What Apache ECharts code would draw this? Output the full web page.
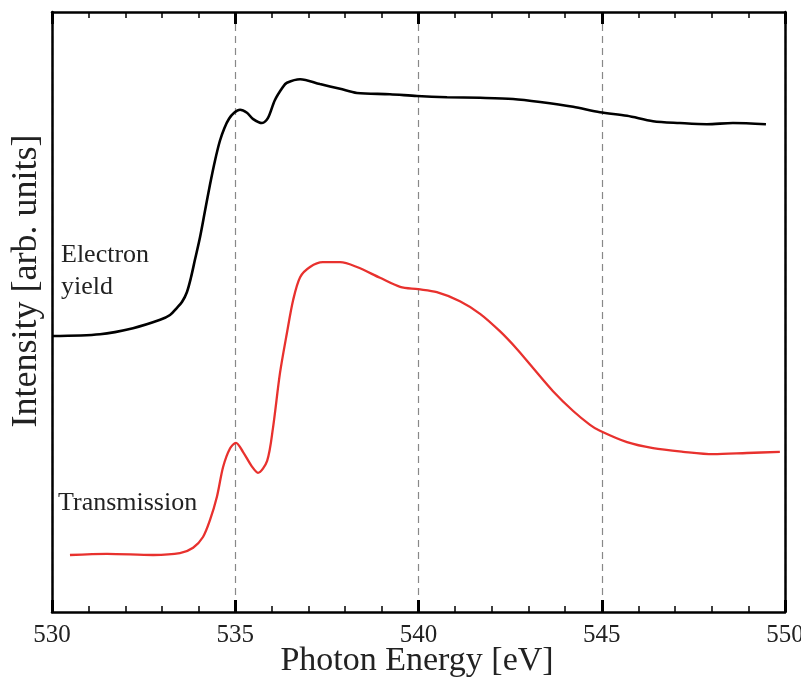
<!DOCTYPE html>
<html>
<head>
<meta charset="utf-8">
<script src="https://cdn.jsdelivr.net/npm/echarts@6/dist/echarts.min.js"></script>
<style>html,body{margin:0;padding:0;background:#fff}#c{width:801px;height:684px}</style>
</head>
<body>
<div id="c"></div>
<script>
// Photon energy (eV) and intensity (arb. units)
var electronEnergy = [530.00,531.31,532.21,532.95,533.22,533.41,533.55,533.68,533.79,533.90,534.04,534.17,534.31,534.45,534.58,534.70,534.83,534.97,535.13,535.32,535.48,535.73,535.89,536.08,536.30,536.41,536.77,537.31,537.86,538.32,539.22,539.96,540.78,541.68,542.58,543.32,544.22,544.95,545.69,546.40,547.13,547.87,548.58,549.48];
var electronYield = [46.0,46.3,47.3,48.7,49.5,50.7,51.7,53.3,55.7,58.7,62.5,66.7,71.2,75.3,78.5,80.6,82.2,83.2,83.7,83.2,82.2,81.5,82.3,85.3,87.5,88.2,88.8,88.0,87.2,86.5,86.3,86.0,85.8,85.7,85.5,85.0,84.2,83.3,82.7,81.8,81.5,81.3,81.5,81.3];

var transEnergy = [530.49,531.50,532.76,533.49,533.85,534.12,534.31,534.50,534.67,534.86,535.02,535.21,535.46,535.62,535.87,536.03,536.22,536.41,536.58,536.77,537.04,537.39,537.86,538.32,538.95,539.50,539.99,540.50,541.13,541.68,542.22,542.69,543.12,543.67,544.22,544.68,544.95,545.69,546.40,547.22,548.04,548.96,549.86];
var transmission = [9.5,9.7,9.5,9.8,10.7,12.5,15.3,19.2,24.2,27.3,28.2,26.7,24.2,23.2,25.2,30.7,39.8,46.5,52.0,55.8,57.5,58.3,58.3,57.5,55.7,54.2,53.8,53.3,51.8,49.7,46.8,43.8,40.7,36.8,33.5,31.2,30.2,28.3,27.3,26.7,26.3,26.5,26.7];

var xTicks = [530, 535, 540, 545, 550];

function pairs(xs, ys){ return xs.map(function(x,i){ return [x, ys[i]]; }); }

var chart = echarts.init(document.getElementById('c'), null, {renderer:'canvas'});
var serif = '"Liberation Serif","Times New Roman",serif';
var axisCommon = {
  type:'value', min:xTicks[0], max:xTicks[xTicks.length-1], interval:5,
  axisLine:{show:true, onZero:false, lineStyle:{color:'#000', width:2.5}},
  axisTick:{show:true, inside:true, length:12, lineStyle:{color:'#000', width:3}},
  minorTick:{show:true, splitNumber:5, length:6, lineStyle:{color:'#000', width:1.5}},
  splitLine:{show:false}
};
chart.setOption({
  animation:false,
  backgroundColor:'#fff',
  grid:{left:52, right:16, top:12, bottom:72, containLabel:false, outerBoundsMode:'none'},
  xAxis:[
    Object.assign({}, axisCommon, {
      position:'bottom',
      axisLabel:{show:true, margin:11, fontFamily:serif, fontSize:25, color:'#222'},
      splitLine:{show:true, lineStyle:{color:'#888', width:1.2, type:[7,5]}}
    }),
    Object.assign({}, axisCommon, {position:'top', axisLabel:{show:false}})
  ],
  yAxis:[
    {type:'value', min:0, max:100, position:'left',
     axisLine:{show:true, lineStyle:{color:'#000', width:2.5}},
     axisTick:{show:false}, axisLabel:{show:false}, splitLine:{show:false}},
    {type:'value', min:0, max:100, position:'right',
     axisLine:{show:true, lineStyle:{color:'#000', width:2.5}},
     axisTick:{show:false}, axisLabel:{show:false}, splitLine:{show:false}}
  ],
  series:[
    {type:'line', name:'Electron yield', data:pairs(electronEnergy, electronYield),
     showSymbol:false, smooth:0.3, lineStyle:{color:'#000', width:2.6}},
    {type:'line', name:'Transmission', data:pairs(transEnergy, transmission),
     showSymbol:false, smooth:0.3, lineStyle:{color:'#e8312e', width:2.3}}
  ],
  graphic:[
    {type:'text', x:417, y:661,
     style:{text:'Photon Energy [eV]', font:'34px ' + serif, fill:'#222', align:'center', verticalAlign:'middle'}},
    {type:'text', x:27, y:281, rotation:Math.PI/2,
     style:{text:'Intensity [arb. units]', font:'36px ' + serif, fill:'#222', align:'center', verticalAlign:'middle'}},
    {type:'text', left:61, top:242, style:{text:'Electron', font:'26px ' + serif, fill:'#222'}},
    {type:'text', left:61, top:274, style:{text:'yield', font:'26px ' + serif, fill:'#222'}},
    {type:'text', left:58, top:490, style:{text:'Transmission', font:'26px ' + serif, fill:'#222'}}
  ]
});
</script>
</body>
</html>
